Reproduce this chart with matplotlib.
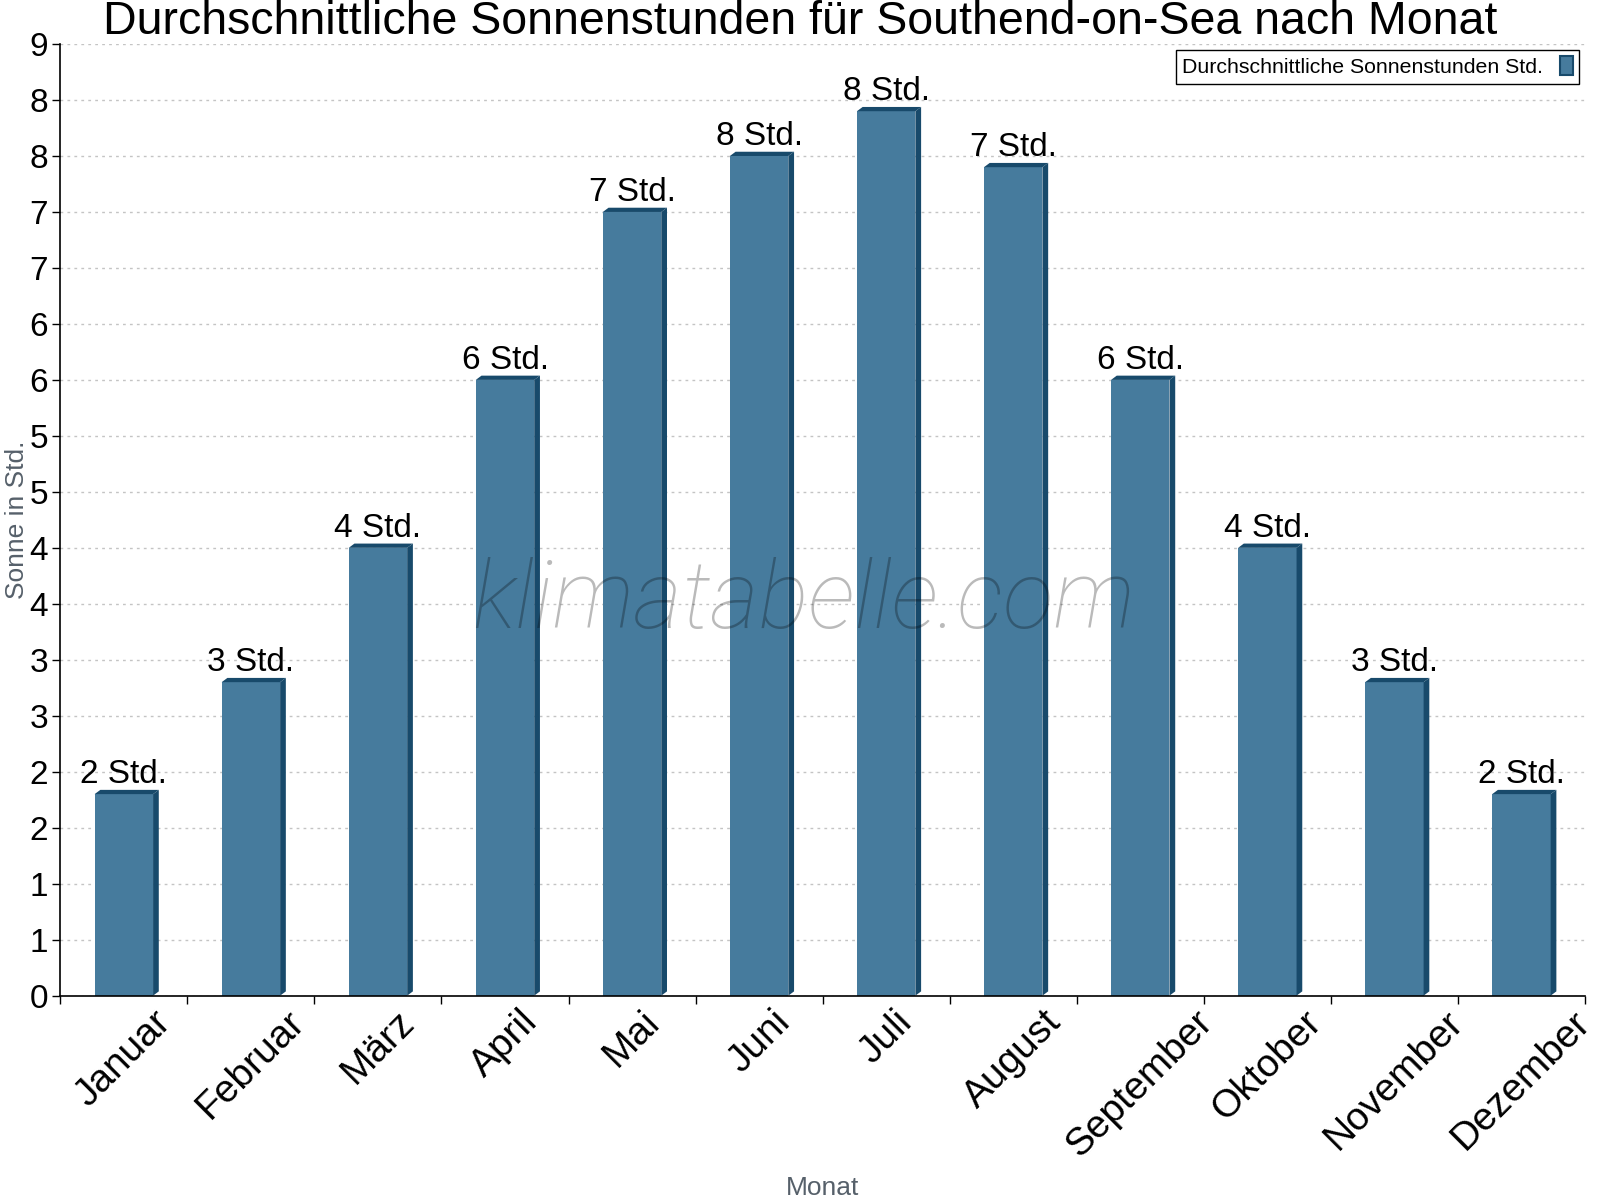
import numpy as np
import matplotlib
matplotlib.use("Agg")
import matplotlib.pyplot as plt
from matplotlib.patches import Polygon, Patch
from matplotlib.ticker import FixedLocator

plt.rcParams["font.family"] = ["Liberation Sans", "DejaVu Sans"]

# ── data ─────────────────────────────────────────────────────────────────────
months = ["Januar", "Februar", "März", "April", "Mai", "Juni", "Juli",
          "August", "September", "Oktober", "November", "Dezember"]
sun_hours = [1.8, 2.8, 4.0, 5.5, 7.0, 7.5, 7.9, 7.4, 5.5, 4.0, 2.8, 1.8]
y_ticks = [0, 0.5, 1, 1.5, 2, 2.5, 3, 3.5, 4, 4.5, 5, 5.5, 6, 6.5, 7, 7.5, 8, 8.5]

FRONT = "#467b9d"
DARK = "#184a6b"

fig = plt.figure(figsize=(16, 12), dpi=100)
ax = fig.add_axes([0.0377, 0.1703, 0.9529, 0.793])

x = np.arange(len(months))
width = 0.46
dx, dy = 0.045, 0.038   # fake 3d depth

ax.bar(x, sun_hours, width=width, color=FRONT, zorder=3, linewidth=0)
for xi, h in zip(x, sun_hours):
    x0, x1 = xi - width / 2, xi + width / 2
    side = Polygon([(x1, 0), (x1 + dx, dy), (x1 + dx, h + dy), (x1, h)],
                   closed=True, facecolor=DARK, edgecolor="none", zorder=3)
    top = Polygon([(x0, h), (x0 + dx, h + dy), (x1 + dx, h + dy), (x1, h)],
                  closed=True, facecolor=DARK, edgecolor="none", zorder=3)
    ax.add_patch(side)
    ax.add_patch(top)
    lbl = int(np.floor(h + 0.5))
    ax.annotate(f"{lbl} Std.", xy=(xi, h + dy), xytext=(0, 5),
                textcoords="offset points", ha="center", va="baseline",
                fontsize=24, color="black", zorder=5)

ax.set_xlim(-0.5, len(months) - 0.5)
ax.set_ylim(0, 8.5)

# y axis: half-step ticks labelled with rounded values
ax.set_yticks(y_ticks)
ax.set_yticklabels([str(int(np.floor(v + 0.5))) for v in y_ticks], fontsize=24)
ax.tick_params(axis="y", direction="out", length=6, width=1, pad=3)

# x axis: labels at centres, tick marks at boundaries
ax.set_xticks(x)
ax.set_xticklabels(months, rotation=45, ha="center", va="top", fontsize=28)
ax.xaxis.set_minor_locator(FixedLocator(np.arange(-0.5, len(months), 1.0)))
ax.tick_params(axis="x", which="major", length=0, pad=6)
ax.tick_params(axis="x", which="minor", direction="out", length=6, width=1)

ax.grid(axis="y", color="#c4c4c4", linestyle=(0, (2, 3)), linewidth=1, zorder=0)
ax.set_axisbelow(True)
for s in ["top", "right"]:
    ax.spines[s].set_visible(False)
for s in ["left", "bottom"]:
    ax.spines[s].set_linewidth(1.2)
    ax.spines[s].set_zorder(6)

ax.set_ylabel("Sonne in Std.", fontsize=19, color="#56606a")
ax.yaxis.set_label_coords(-0.0205, 0.5)
ax.set_xlabel("Monat", fontsize=19, color="#56606a")
ax.xaxis.set_label_coords(0.5, -0.19)

# title is centred on the figure, not on the axes
ax.set_title("Durchschnittliche Sonnenstunden für Southend-on-Sea nach Monat",
             fontsize=33.5, pad=-3.5, x=0.485)

handle = Patch(facecolor=FRONT, edgecolor=DARK, linewidth=1.5)
leg = ax.legend([handle], ["Durchschnittliche Sonnenstunden Std."],
                loc="upper right", bbox_to_anchor=(0.9964, 0.9937),
                borderaxespad=0, fontsize=15.3, markerfirst=False,
                fancybox=False, framealpha=1, edgecolor="black",
                handlelength=0.6, handleheight=1.0, borderpad=0.3,
                handletextpad=0.8)
leg.get_frame().set_linewidth(1.0)
leg.set_zorder(7)

fig.text(0.502, 0.477, "klimatabelle.com", ha="center", va="baseline",
         fontsize=67.5, fontstyle="italic", fontweight="light",
         family=["Roboto", "DejaVu Sans"], color="black", alpha=0.27, zorder=10)

fig.savefig("out.png", dpi=100)
